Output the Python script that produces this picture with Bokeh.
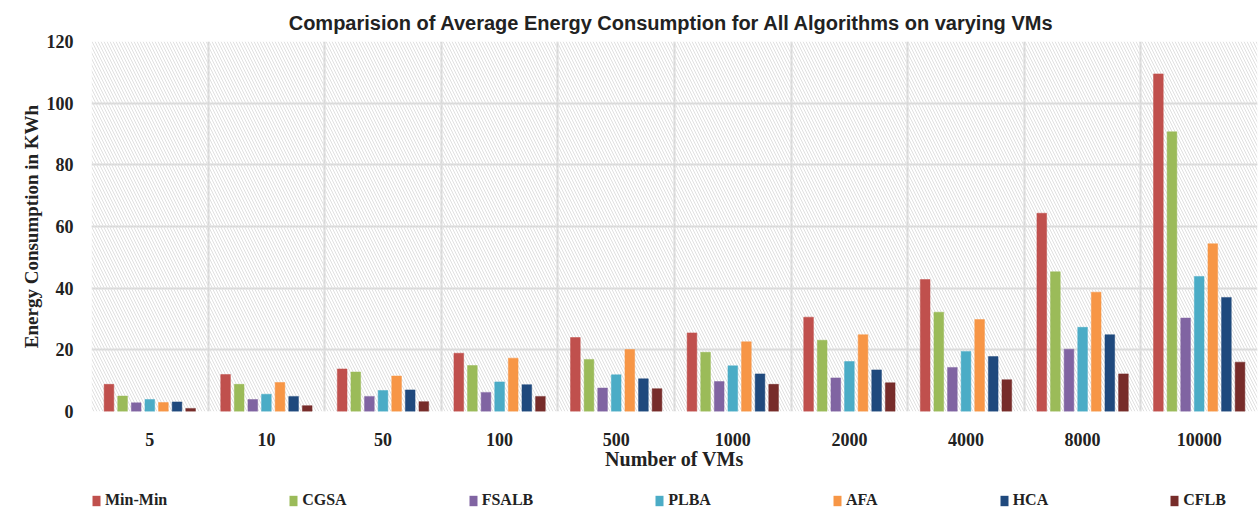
import numpy as np
from bokeh.plotting import figure
from bokeh.layouts import column
from bokeh.models import (ColumnDataSource, FixedTicker, Range1d, Legend, LegendItem,
                          BoxAnnotation)
from bokeh.embed import file_html
from bokeh.resources import INLINE

# ---- data ----
vms = ["5", "10", "50", "100", "500", "1000", "2000", "4000", "8000", "10000"]
series_names = ["Min-Min", "CGSA", "FSALB", "PLBA", "AFA", "HCA", "CFLB"]
min_min = [8.8, 12.0, 13.8, 18.9, 24.0, 25.5, 30.6, 42.8, 64.3, 109.5]
cgsa    = [5.0, 8.8, 12.8, 14.9, 16.9, 19.2, 23.1, 32.2, 45.3, 90.7]
fsalb   = [2.8, 3.9, 4.9, 6.2, 7.6, 9.7, 10.9, 14.3, 20.2, 30.3]
plba    = [3.9, 5.6, 6.8, 9.6, 11.9, 14.8, 16.2, 19.5, 27.3, 43.8]
afa     = [2.9, 9.4, 11.5, 17.3, 20.1, 22.6, 24.9, 29.8, 38.7, 54.4]
hca     = [3.1, 4.9, 7.0, 8.7, 10.6, 12.2, 13.5, 17.8, 24.9, 37.0]
cflb    = [1.0, 1.9, 3.2, 4.9, 7.4, 8.8, 9.3, 10.3, 12.2, 16.0]
y_ticks = [0, 20, 40, 60, 80, 100, 120]

series_values = [min_min, cgsa, fsalb, plba, afa, hca, cflb]
colors = ["#C0504D", "#9BBB59", "#8064A2", "#4BACC6", "#F79646", "#1F497D", "#772C2A"]

SERIF = "Liberation Serif"
SANS = "Liberation Sans"
TXT = "#222222"

p = figure(width=1260, height=484, output_backend="svg", toolbar_location=None,
           x_range=Range1d(0, len(vms)), y_range=Range1d(0, 120),
           min_border_left=91, min_border_right=3, min_border_top=41, min_border_bottom=73,
           title="Comparision of Average Energy Consumption for All Algorithms on varying  VMs")
p.outline_line_color = None
p.background_fill_color = "white"

# hatched plot background
p.add_layout(BoxAnnotation(left=0, right=len(vms), bottom=0, top=120, level="underlay",
                           fill_alpha=0, line_alpha=0,
                           hatch_pattern="\\", hatch_color="#e0e0e0", hatch_scale=6,
                           hatch_weight=1))

idx = np.arange(len(vms))
step = 0.1167
width = 0.083
for j, (name, vals, col) in enumerate(zip(series_names, series_values, colors)):
    src = ColumnDataSource(dict(x=idx + 0.5 + (j - 3) * step, top=vals))
    p.vbar(x="x", top="top", width=width, bottom=0, source=src,
           fill_color=col, line_color=col, line_width=0.5)

# axes
p.xaxis.ticker = FixedTicker(ticks=list(idx + 0.5))
p.xaxis.major_label_overrides = {float(i + 0.5): v for i, v in enumerate(vms)}
p.xgrid.ticker = FixedTicker(ticks=list(range(len(vms) + 1)))
p.yaxis.ticker = FixedTicker(ticks=y_ticks)
for g in (p.xgrid, p.ygrid):
    g.grid_line_color = "#d9d9d9"
    g.grid_line_width = 2

for ax in (p.xaxis, p.yaxis):
    ax.axis_line_color = None
    ax.major_tick_line_color = None
    ax.minor_tick_line_color = None
    ax.major_label_text_font = SERIF
    ax.major_label_text_font_style = "bold"
    ax.major_label_text_font_size = "18px"
    ax.major_label_text_color = TXT
    ax.axis_label_text_font = SERIF
    ax.axis_label_text_font_style = "bold"
    ax.axis_label_text_color = TXT

p.xaxis.axis_label = "Number of VMs"
p.yaxis.axis_label = "Energy Consumption in KWh"
p.xaxis.axis_label_text_font_size = "20px"
p.yaxis.axis_label_text_font_size = "19px"
p.xaxis.major_label_standoff = 15
p.xaxis.axis_label_standoff = -1
p.yaxis.major_label_standoff = 12
p.yaxis.axis_label_standoff = 2

p.title.text_font = SANS
p.title.text_font_style = "bold"
p.title.text_font_size = "20px"
p.title.text_color = TXT
p.title.align = "center"
p.title.standoff = 16

# legend strip below the chart (its frame is aligned with the chart frame by the column)
lg = figure(width=1260, height=32, output_backend="svg", toolbar_location=None,
            x_range=Range1d(0, 1), y_range=Range1d(0, 1),
            x_axis_type=None, y_axis_type=None,
            min_border_left=0, min_border_right=0, min_border_top=0, min_border_bottom=0)
lg.outline_line_color = None
lg.xgrid.visible = False
lg.ygrid.visible = False
items = []
for name, vals, col in zip(series_names, series_values, colors):
    # zero-width legend proxy glyph (draws nothing in the strip itself)
    r = lg.vbar(x=[0.5], top=[0], bottom=[0], width=0, fill_color=col, line_color=None)
    items.append(LegendItem(label=name, renderers=[r]))
legend = Legend(items=items, orientation="horizontal", location=(0, 6),
                glyph_width=10, glyph_height=13, label_height=20,
                label_standoff=4, spacing=121, padding=0, margin=0,
                background_fill_alpha=0, border_line_alpha=0,
                label_text_font=SERIF, label_text_font_style="bold",
                label_text_font_size="16px", label_text_color=TXT)
lg.add_layout(legend, "center")

layout = column(p, lg, spacing=0)
open("out.html", "w").write(file_html(layout, INLINE))
